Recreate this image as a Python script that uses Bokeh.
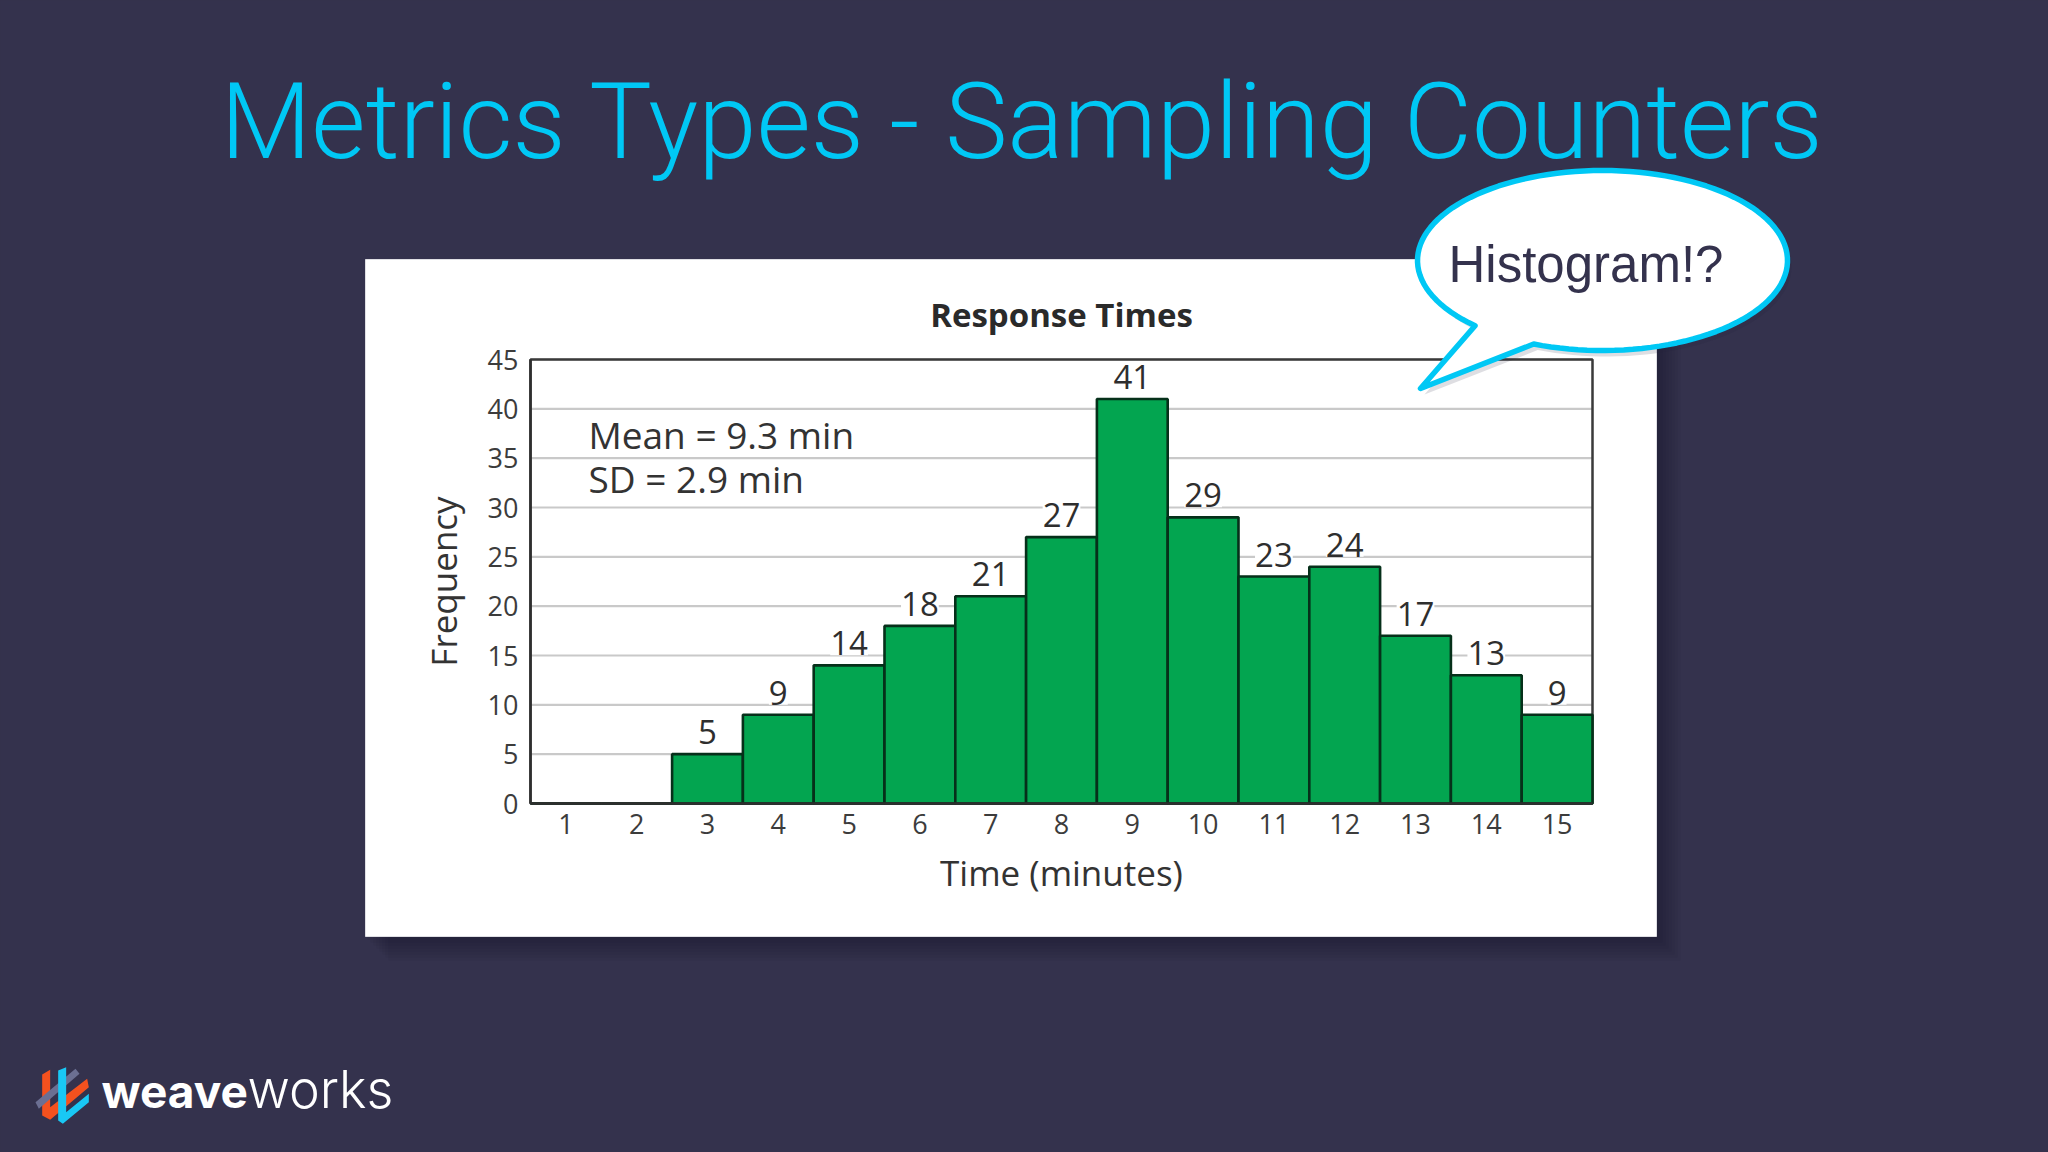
import numpy as np
from bokeh.core.properties import value
from bokeh.embed import file_html
from bokeh.models import ColumnDataSource, FixedTicker, Label, LabelSet, Range1d
from bokeh.plotting import figure
from bokeh.resources import INLINE

# ---- chart values ----
times = list(range(1, 16))
frequency = [0, 0, 5, 9, 14, 18, 21, 27, 41, 29, 23, 24, 17, 13, 9]
y_ticks = [0, 5, 10, 15, 20, 25, 30, 35, 40, 45]

slide_title = "Metrics Types - Sampling Counters"
chart_title = "Response Times"
x_title = "Time (minutes)"
y_title = "Frequency"
stat_lines = ["Mean = 9.3 min", "SD = 2.9 min"]
bubble_text = "Histogram!?"

BG = "#34324d"
CYAN = "#00c8f5"
W, H = 2048, 1152

# reference pixel position of the plot frame
FL, FR, FT, FB = 530.0, 1592.0, 359.0, 803.0
sx = (FR - FL) / 15.0
sy = (FB - FT) / 45.0
x_range = Range1d(0.5 - FL / sx, 15.5 + (W - FR) / sx)
y_range = Range1d(0 - (H - FB) / sy, 45 + FT / sy)

p = figure(width=W, height=H, x_range=x_range, y_range=y_range,
           output_backend="svg", toolbar_location=None, min_border=0,
           outline_line_color=None, background_fill_color=BG, border_fill_color=BG)
p.extra_x_ranges = {"px": Range1d(0, W)}
p.extra_y_ranges = {"px": Range1d(H, 0)}
PX = dict(x_range_name="px", y_range_name="px")

# white card and its soft shadow
for k in range(8):
    off = 3 + k * 3
    p.quad(left=[364 + off], right=[1656 + off], top=[259 + off], bottom=[936 + off],
           fill_color="#14122a", fill_alpha=0.055, line_color=None, level="image", **PX)
p.quad(left=[365], right=[1656], top=[259], bottom=[936], fill_color="white",
       line_color="#dfdfe4", line_width=1, level="image", **PX)

# axes and grid
xa, ya = p.xaxis[0], p.yaxis[0]
xa.fixed_location = 0
ya.fixed_location = 0.5
xa.bounds = (0.5, 15.5)
ya.bounds = (0, 45)
xa.ticker = FixedTicker(ticks=times)
ya.ticker = FixedTicker(ticks=y_ticks)
for ax in (xa, ya):
    ax.major_tick_line_color = None
    ax.minor_tick_line_color = None
    ax.axis_line_color = "#2e2e2e"
    ax.axis_line_width = 2.5
    ax.major_label_text_font = "Open Sans"
    ax.major_label_text_font_size = "27px"
    ax.major_label_text_color = "#3c3c3c"
    ax.axis_label_text_font = "Open Sans"
    ax.axis_label_text_font_size = "35px"
    ax.axis_label_text_font_style = "normal"
    ax.axis_label_text_color = "#333333"
xa.major_label_standoff = 4
ya.major_label_standoff = 6
xa.axis_label = x_title
ya.axis_label = y_title
xa.axis_label_standoff = 12
ya.axis_label_standoff = 18

p.xgrid.visible = False
p.ygrid.visible = False
p.segment(x0=[0.5] * len(y_ticks), x1=[15.5] * len(y_ticks), y0=y_ticks, y1=y_ticks,
          line_color="#c9c9c9", line_width=2.2, level="underlay")

# frame
p.quad(left=[0.5], right=[15.5], bottom=[0], top=[45], fill_color=None,
       line_color="#3a3a3a", line_width=2.5)

# bars
src = ColumnDataSource(dict(x=times, y=frequency))
p.vbar(x="x", top="y", width=1.0, bottom=0, source=src, fill_color="#03a550",
       line_color="#06301a", line_width=2.6)

# bar value labels
lab = ColumnDataSource(dict(
    x=[t for t, f in zip(times, frequency) if f > 0],
    y=[f for f in frequency if f > 0],
    t=[str(f) for f in frequency if f > 0]))
p.add_layout(LabelSet(x="x", y="y", text="t", source=lab, y_offset=10,
                      text_align="center", text_baseline="bottom",
                      text_font=value("Open Sans"), text_font_size="33px",
                      text_color="#2e2e2e", background_fill_color="white"))

def label(x, y, text, font, size, color, align="left", style="normal", level="annotation"):
    p.add_layout(Label(x=x, y=y - 0.37 * size, text=text, text_font=font,
                       text_font_size=f"{size}px", text_color=color, text_align=align,
                       text_baseline="alphabetic", text_font_style=style, level=level, **PX))

label(1061, 326, chart_title, "Open Sans", 33, "#2a2a2a", "center", "bold")
label(588, 448, stat_lines[0], "Open Sans", 37, "#333333")
label(588, 492, stat_lines[1], "Open Sans", 37, "#333333")
label(220, 161, slide_title, "Roboto Light", 105, CYAN)

# speech bubble
cx, cy, rx, ry = 1602.0, 260.0, 185.0, 90.0
a0 = np.arctan2((325 - cy) / ry, (1475 - cx) / rx)
a1 = np.arctan2((345 - cy) / ry, (1532 - cx) / rx)
ang = np.linspace(a1, a1 - (2 * np.pi - ((a0 - a1) % (2 * np.pi))), 120)
bx = list(cx + rx * np.cos(ang)) + [1420]
by = list(cy + ry * np.sin(ang)) + [388]
p.patch([v + 4 for v in bx], [v + 6 for v in by], fill_color="#20203a", fill_alpha=0.15,
        line_color=None, level="annotation", **PX)
p.patch(bx, by, fill_color="white", line_color=CYAN, line_width=5.5, line_join="round",
        level="annotation", **PX)
label(1448, 283, bubble_text, "Liberation Sans", 51, BG, level="overlay")

# logo
def logo(zx, zy, color):
    p.patch([25 + v / 3 for v in zx], [1060 + v / 3 for v in zy], fill_color=color,
            line_color=None, **PX)

logo([50, 74, 74, 185, 190, 74, 50], [42, 28, 140, 55, 80, 178, 165], "#f4511e")
logo([30, 150, 162, 40], [125, 25, 40, 145], "#6b6f92")
logo([98, 122, 122, 190, 190, 112, 98], [30, 20, 155, 100, 125, 190, 180], "#19c8f5")
label(101, 1108, "weave", "Inter", 46, "white", style="bold")
label(247, 1108, "works", "Inter Light", 52, "white")

html = file_html(p, INLINE).replace("<body>", f'<body style="background:{BG}">')
open("out.html", "w").write(html)
